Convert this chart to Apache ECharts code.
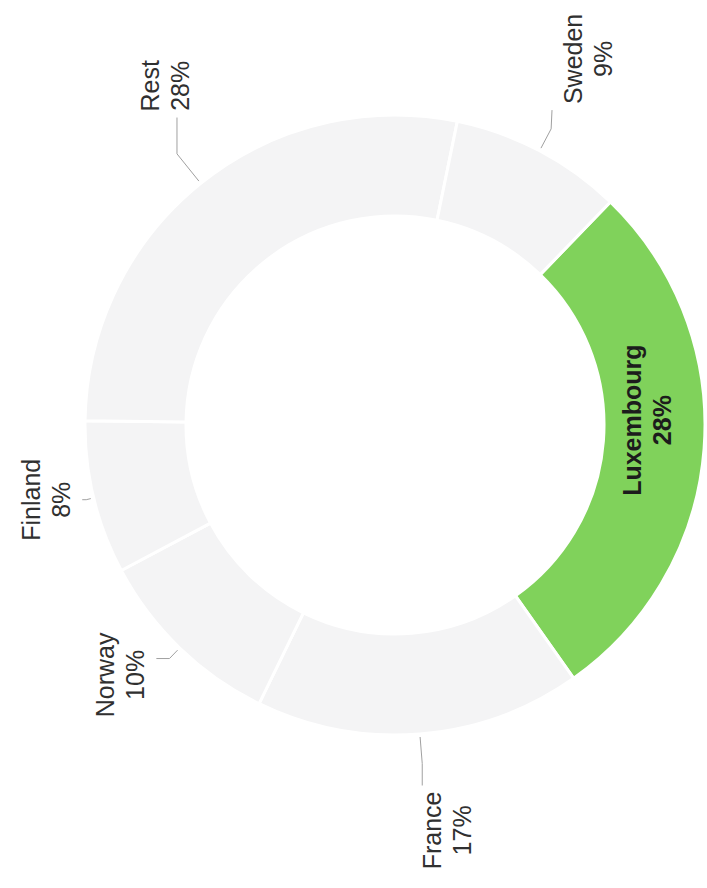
<!DOCTYPE html>
<html>
<head>
<meta charset="utf-8">
<title>Share by country</title>
<script src="https://cdn.jsdelivr.net/npm/echarts@6/dist/echarts.min.js"></script>
<style>
  html, body { margin: 0; padding: 0; background: #ffffff; width: 707px; height: 888px; overflow: hidden; }
  /* the chart is laid out landscape and turned a quarter turn to stand on the page */
  #chart {
    position: absolute; left: 0; top: 888px;
    width: 888px; height: 707px;
    transform-origin: 0 0;
    transform: rotate(-90deg);
  }
</style>
</head>
<body>
<div id="chart"></div>
<script>
// Shares in percent, in drawing order (clockwise from the start angle)
const countries = ['Luxembourg', 'France', 'Norway', 'Finland', 'Rest', 'Sweden'];
const shares = [28, 17, 10, 8, 28, 9];
const highlighted = 'Luxembourg';

// Ring geometry (px in the chart's own landscape frame)
const CENTER = [463, 395];
const R_IN = 209;
const R_OUT = 310;
const START_ANGLE = -44;

const GREEN = '#80d25b';
const PALE = '#f4f4f5';

// Hand-tuned label placement: angle shift (deg) and radial shift (px) per label
const labelNudge = {
  Luxembourg: { da: 5.5, dr: -7 },
  France: { da: 2.7, dr: -15 },
  Norway: { da: -3.7, dr: -28 },
  Finland: { da: -1.5, dr: 0 },
  Rest: { da: -4.7, dr: 5 },
  Sweden: { da: 0, dr: 0 }
};

// Mid angle of every slice
const total = shares.reduce((a, b) => a + b, 0);
const midAngles = [];
let acc = START_ANGLE;
shares.forEach(v => {
  const span = v / total * 360;
  midAngles.push(acc - span / 2);
  acc -= span;
});

function clamp(v, lo, hi) { return Math.max(lo, Math.min(hi, v)); }
function rad(d) { return d * Math.PI / 180; }

// Outside labels sit beyond the ring near their slice's bisector (further out
// at the sides); the guide line runs from the ring to the nearest side of the box.
function placeLabel(params) {
  const i = params.dataIndex;
  const name = countries[i];
  const nudge = labelNudge[name] || { da: 0, dr: 0 };
  const mid = rad(midAngles[i]);
  const th = rad(midAngles[i] + nudge.da);

  if (name === highlighted) {
    const r = (R_IN + R_OUT) / 2 + nudge.dr;
    return {
      x: CENTER[0] + r * Math.cos(th),
      y: CENTER[1] - r * Math.sin(th),
      align: 'center', verticalAlign: 'middle'
    };
  }

  const w = params.labelRect.width, h = params.labelRect.height;
  const D = R_OUT + 26 + 88 * Math.abs(Math.cos(mid)) + nudge.dr;
  const cx = CENTER[0] + D * Math.cos(th);
  const cy = CENTER[1] - D * Math.sin(th);

  const pad = 6;
  const bx0 = cx - w / 2 - pad, bx1 = cx + w / 2 + pad;
  const by0 = cy - h / 2 - pad, by1 = cy + h / 2 + pad;
  const c = Math.cos(mid), s = Math.sin(mid);
  const sx = CENTER[0] + (R_OUT + 3) * c;
  const sy = CENTER[1] - (R_OUT + 3) * s;
  const nx = clamp(sx, bx0, bx1), ny = clamp(sy, by0, by1);
  const d = Math.hypot(nx - sx, ny - sy);
  const mx = sx + c * d * 0.55;
  const my = sy - s * d * 0.55;
  const ex = clamp(mx, bx0, bx1), ey = clamp(my, by0, by1);

  return {
    x: cx, y: cy,
    align: 'center', verticalAlign: 'middle',
    labelLinePoints: [[sx, sy], [mx, my], [ex, ey]]
  };
}

const chart = echarts.init(document.getElementById('chart'), null, { renderer: 'svg' });
chart.setOption({
  animation: false,
  backgroundColor: '#ffffff',
  series: [{
    type: 'pie',
    center: CENTER,
    radius: [R_IN, R_OUT],
    startAngle: START_ANGLE,
    clockwise: true,
    avoidLabelOverlap: false,
    silent: true,
    itemStyle: { borderColor: '#ffffff', borderWidth: 3 },
    label: {
      show: true,
      position: 'outside',
      formatter: '{b}\n{c}%',
      fontFamily: '"Liberation Sans", Arial, sans-serif',
      fontSize: 25,
      lineHeight: 30,
      color: '#303030',
      align: 'center'
    },
    labelLine: {
      show: true,
      length: 20,
      length2: 10,
      lineStyle: { color: '#a0a0a0', width: 1 }
    },
    labelLayout: placeLabel,
    data: countries.map((name, i) => {
      const isMain = name === highlighted;
      const item = {
        name: name,
        value: shares[i],
        itemStyle: { color: isMain ? GREEN : PALE }
      };
      if (isMain) {
        item.label = { position: 'inside', fontWeight: 'bold', color: '#1c1c1c' };
        item.labelLine = { show: false };
      }
      return item;
    })
  }]
});
</script>
</body>
</html>
